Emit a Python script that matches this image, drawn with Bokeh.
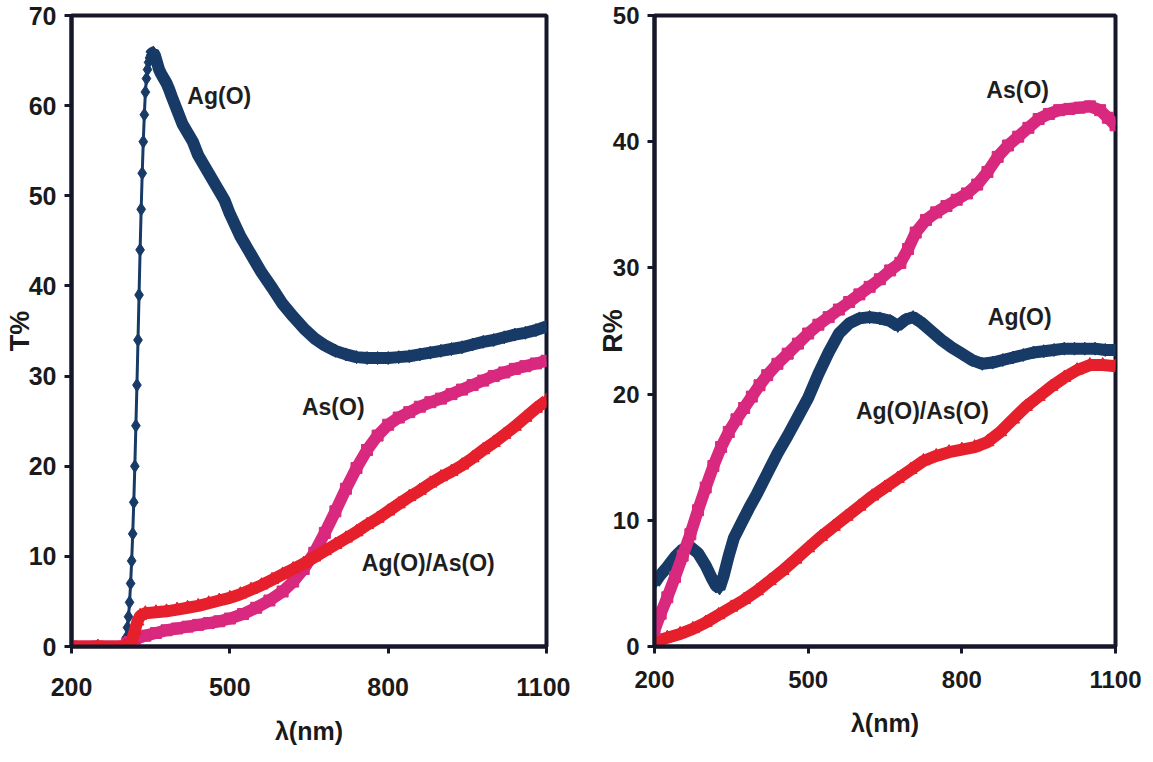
from bokeh.plotting import figure
from bokeh.layouts import row
from bokeh.models import Range1d, FixedTicker
from bokeh.core.properties import value
from bokeh.embed import file_html
from bokeh.resources import INLINE

# ---------------- Transmittance (T%) ----------------
t_ag_wl = [200, 250, 296, 300, 302, 304, 306, 308, 310, 312, 314, 316, 318, 320,
           322, 324, 326, 328, 330, 332, 334, 336, 338, 340, 342, 344, 346, 348,
           350, 352, 355, 358, 362, 366, 370, 375, 380, 385, 390, 400, 410, 420,
           430, 440, 450, 460, 470, 480, 490, 500, 520, 540, 560, 580, 600, 620,
           640, 660, 680, 700, 720, 740, 760, 780, 800, 820, 840, 860, 880, 900,
           920, 940, 960, 980, 1000, 1020, 1040, 1060, 1080, 1100]
t_ag = [0, 0, 0, 0, 0.4, 1.0, 2.1, 3.3, 4.9, 7.0, 9.5, 12.5, 16, 20,
        24.5, 29, 34, 39, 44, 48.5, 52.5, 56, 59, 61.5, 63, 64, 64.8, 65.3,
        65.6, 65.8, 65.9, 65.6, 64.8, 64, 63.5, 63, 62.5, 61.8, 61, 59.5, 58, 57,
        56, 54.5, 53.5, 52.5, 51.5, 50.5, 49.5, 48, 45.5, 43.5, 41.5, 39.8, 38, 36.6,
        35.3, 34.2, 33.4, 32.8, 32.4, 32.1, 32, 32, 32, 32.1, 32.2, 32.4, 32.6, 32.8,
        33, 33.2, 33.5, 33.8, 34, 34.3, 34.6, 34.8, 35.1, 35.5]

t_as_wl = [200, 250, 300, 305, 310, 320, 340, 360, 380, 400, 420, 440, 460, 480,
           500, 525, 550, 575, 600, 620, 640, 660, 680, 700, 720, 740, 760, 780,
           800, 820, 840, 860, 880, 900, 920, 940, 960, 980, 1000, 1020, 1040, 1060,
           1080, 1100]
t_as = [0, 0, 0, 0.3, 0.5, 0.8, 1.2, 1.5, 1.8, 2.0, 2.2, 2.4, 2.6, 2.8,
        3.1, 3.6, 4.3, 5.1, 6.1, 7.2, 8.6, 10.4, 12.6, 15.0, 17.5, 19.8, 21.8, 23.4,
        24.6, 25.4, 26, 26.6, 27.1, 27.5, 28, 28.5, 29, 29.5, 30, 30.4, 30.8, 31.1,
        31.4, 31.7]

t_mix_wl = [200, 250, 300, 310, 315, 320, 325, 330, 340, 360, 380, 400, 420, 440,
            460, 480, 500, 520, 540, 560, 580, 600, 620, 640, 660, 680, 700, 720,
            740, 760, 780, 800, 820, 840, 860, 880, 900, 920, 940, 960, 980, 1000,
            1020, 1040, 1060, 1080, 1100]
t_mix = [0, 0, 0, 0.2, 0.8, 1.8, 2.8, 3.4, 3.7, 3.8, 3.9, 4.1, 4.3, 4.5,
         4.8, 5.1, 5.4, 5.8, 6.3, 6.8, 7.4, 8.0, 8.6, 9.2, 9.9, 10.6, 11.3, 12,
         12.7, 13.5, 14.2, 15, 15.8, 16.6, 17.3, 18.1, 18.8, 19.4, 20.1, 20.9, 21.8, 22.6,
         23.5, 24.4, 25.4, 26.4, 27.3]

# ---------------- Reflectance (R%) ----------------
r_ag_wl = [200, 210, 225, 240, 255, 270, 285, 300, 312, 320, 327, 335, 345, 355,
           370, 385, 400, 420, 440, 460, 480, 500, 520, 540, 560, 580, 600, 620,
           640, 660, 675, 690, 705, 720, 740, 760, 780, 800, 820, 840, 860, 880,
           900, 920, 940, 960, 980, 1000, 1020, 1040, 1060, 1080, 1100]
r_ag = [5.0, 5.6, 6.3, 7.1, 7.7, 7.9, 7.4, 6.4, 5.4, 4.8, 4.6, 5.6, 7.2, 8.6,
        9.8, 11.0, 12.1, 13.7, 15.3, 16.7, 18.2, 19.7, 21.6, 23.3, 24.8, 25.6, 26.0, 26.1,
        26.0, 25.8, 25.4, 25.9, 26.1, 25.7, 25.0, 24.3, 23.7, 23.2, 22.7, 22.4, 22.5, 22.7,
        22.9, 23.1, 23.3, 23.4, 23.5, 23.6, 23.6, 23.6, 23.6, 23.5, 23.5]

r_as_wl = [200, 212, 225, 240, 255, 270, 285, 300, 315, 330, 345, 360, 375, 390,
           405, 420, 440, 460, 480, 500, 520, 540, 560, 580, 600, 620, 640, 660,
           680, 695, 710, 730, 750, 770, 790, 810, 830, 850, 870, 890, 910, 930,
           950, 970, 990, 1010, 1030, 1050, 1070, 1085, 1100]
r_as = [1.3, 2.6, 3.9, 5.5, 7.2, 8.9, 10.8, 12.6, 14.3, 15.8, 17.0, 18.0, 18.9, 19.8,
        20.7, 21.5, 22.4, 23.2, 24.0, 24.8, 25.5, 26.1, 26.7, 27.3, 27.9, 28.5, 29.1, 29.8,
        30.4, 31.5, 32.8, 33.8, 34.4, 34.9, 35.4, 35.9, 36.6, 37.6, 38.8, 39.7, 40.4, 41.1,
        41.8, 42.2, 42.5, 42.6, 42.7, 42.8, 42.5, 41.9, 41.3]

r_mix_wl = [200, 225, 250, 275, 300, 325, 350, 375, 400, 425, 450, 475, 500, 525,
            550, 575, 600, 625, 650, 675, 700, 725, 750, 775, 800, 825, 850, 875,
            900, 925, 950, 975, 1000, 1025, 1050, 1075, 1100]
r_mix = [0.4, 0.7, 1.0, 1.4, 1.9, 2.5, 3.1, 3.7, 4.4, 5.2, 6.0, 6.9, 7.8, 8.7,
         9.5, 10.3, 11.1, 11.9, 12.6, 13.3, 14.0, 14.7, 15.1, 15.4, 15.6, 15.8, 16.2, 17.0,
         18.0, 19.0, 19.8, 20.6, 21.3, 21.9, 22.3, 22.3, 22.2]

x_ticks = [200, 500, 800, 1100]
t_ticks = [0, 10, 20, 30, 40, 50, 60, 70]
r_ticks = [0, 10, 20, 30, 40, 50]

NAVY = "#173a66"
MAGENTA = "#d8297f"
RED = "#e5202c"
INK = "#17172b"
FONT = "Liberation Sans"
BAND = 12


def make_panel(width, left, right, bottom, ymax, yticks, ylabel, tick_size,
               x_standoff, xlabel_standoff, ylabel_standoff):
    p = figure(width=width, height=762, output_backend="svg", toolbar_location=None,
               x_range=Range1d(200, 1100), y_range=Range1d(0, ymax),
               min_border_left=left, min_border_right=right,
               min_border_top=15, min_border_bottom=bottom)
    p.background_fill_color = "white"
    p.border_fill_color = "white"
    p.grid.visible = False
    p.outline_line_color = INK
    p.outline_line_width = 4
    p.outline_line_alpha = 1.0
    for ax in (p.xaxis[0], p.yaxis[0]):
        ax.axis_line_color = INK
        ax.axis_line_width = 4
        ax.major_tick_line_color = INK
        ax.major_tick_line_width = 3
        ax.major_tick_in = 0
        ax.major_tick_out = 7
        ax.minor_tick_line_color = None
        ax.major_label_text_font = FONT
        ax.major_label_text_font_style = "bold"
        ax.major_label_text_font_size = tick_size
        ax.major_label_text_color = "#1a1a1a"
        ax.axis_label_text_font = FONT
        ax.axis_label_text_font_style = "bold"
        ax.axis_label_text_color = "#1a1a1a"
    p.xaxis.ticker = FixedTicker(ticks=x_ticks)
    p.yaxis.ticker = FixedTicker(ticks=yticks)
    p.xaxis.axis_label = "λ(nm)"
    p.xaxis.axis_label_text_font_size = "25px"
    p.xaxis.major_label_standoff = x_standoff
    p.xaxis.axis_label_standoff = xlabel_standoff
    p.yaxis.axis_label = ylabel
    p.yaxis.axis_label_text_font_size = "27px"
    p.yaxis.major_label_standoff = 8
    p.yaxis.axis_label_standoff = ylabel_standoff
    return p


def note(p, x, y, s):
    p.text(x=[x], y=[y], text=[s], text_font=value(FONT), text_font_style="bold",
           text_font_size="23px", text_color="#1e1e1e",
           text_align="center", text_baseline="middle")


# ---- left: T% ----
p1 = make_panel(570, 71, 24, 110, 70, t_ticks, "T%", "25px", 24, 18, -9)

peak = t_ag_wl.index(350)
p1.line(t_ag_wl, t_ag, line_color=NAVY, line_width=3)
p1.line(t_ag_wl[peak:], t_ag[peak:], line_color=NAVY, line_width=BAND)
p1.scatter(t_ag_wl, t_ag, marker="diamond", size=13, fill_color=NAVY, line_color=NAVY)

p1.line(t_as_wl, t_as, line_color=MAGENTA, line_width=BAND)
p1.scatter(t_as_wl, t_as, marker="square", size=11, fill_color=MAGENTA, line_color=MAGENTA)

p1.line(t_mix_wl, t_mix, line_color=RED, line_width=BAND)
p1.scatter(t_mix_wl, t_mix, marker="triangle", size=13, fill_color=RED, line_color=RED)

note(p1, 480, 61.1, "Ag(O)")
note(p1, 696, 26.6, "As(O)")
note(p1, 876, 9.3, "Ag(O)/As(O)")

# ---- right: R% ----
p2 = make_panel(583, 84, 38, 116, 50, r_ticks, "R%", "24px", 17, 18, -18)

p2.line(r_mix_wl, r_mix, line_color=RED, line_width=BAND)
p2.scatter(r_mix_wl, r_mix, marker="triangle", size=13, fill_color=RED, line_color=RED)

p2.line(r_ag_wl, r_ag, line_color=NAVY, line_width=BAND)
p2.scatter(r_ag_wl, r_ag, marker="diamond", size=13, fill_color=NAVY, line_color=NAVY)

p2.line(r_as_wl, r_as, line_color=MAGENTA, line_width=BAND)
p2.scatter(r_as_wl, r_as, marker="square", size=11, fill_color=MAGENTA, line_color=MAGENTA)

note(p2, 909, 44.1, "As(O)")
note(p2, 913, 26.1, "Ag(O)")
note(p2, 723, 18.7, "Ag(O)/As(O)")

layout = row(p1, p2)
open("out.html", "w").write(file_html(layout, INLINE))
